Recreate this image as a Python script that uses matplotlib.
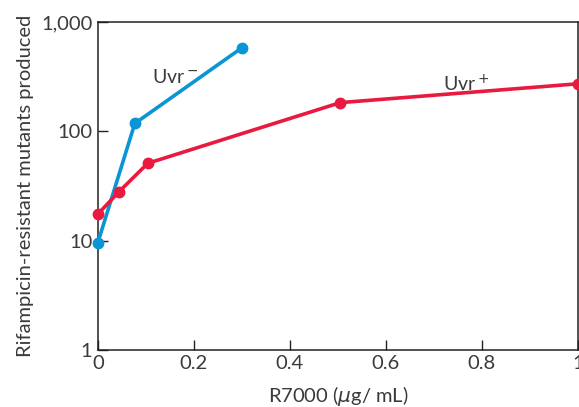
import matplotlib
matplotlib.use("Agg")
import matplotlib.pyplot as plt
from matplotlib.ticker import FixedLocator, NullLocator

# data
uvr_minus_x = [0.0, 0.077, 0.30]
uvr_minus_y = [9.6, 118, 580]
uvr_plus_x = [0.0, 0.044, 0.104, 0.505, 1.0]
uvr_plus_y = [17.5, 28, 51, 183, 272]

y_ticks = [1, 10, 100, 1000]
y_ticklabels = ["1", "10", "100", "1,000"]
x_ticks = [0, 0.2, 0.4, 0.6, 0.8, 1.0]
x_ticklabels = ["0", "0.2", "0.4", "0.6", "0.8", "1"]

BLUE = "#0a95d6"
RED = "#e81a3f"
TEXT = "#3a3a3a"

plt.rcParams["font.family"] = ["Lato", "DejaVu Sans"]
plt.rcParams["mathtext.fontset"] = "dejavusans"

fig = plt.figure(figsize=(5.79, 4.07), dpi=100)
ax = fig.add_axes([0.169, 0.140, 0.829, 0.806])

ax.plot(uvr_minus_x, uvr_minus_y, color=BLUE, lw=2.6, marker="o", ms=7.5, clip_on=False, zorder=3)
ax.plot(uvr_plus_x, uvr_plus_y, color=RED, lw=2.6, marker="o", ms=7.5, clip_on=False, zorder=3)

ax.set_yscale("log")
ax.set_ylim(1, 1000)
ax.set_xlim(0, 1)
ax.yaxis.set_major_locator(FixedLocator(y_ticks))
ax.yaxis.set_minor_locator(NullLocator())
ax.set_yticklabels(y_ticklabels)
ax.set_xticks(x_ticks)
ax.set_xticklabels(x_ticklabels)

ax.tick_params(direction="in", length=7, width=1, colors="#222222", labelcolor=TEXT, labelsize=14.5)
ax.tick_params(axis="y", pad=4)
for s in ax.spines.values():
    s.set_color("#222222")
    s.set_linewidth(1.1)

ax.text(0.112, 315, r"Uvr$\,^{-}$", color=TEXT, fontsize=14, ha="left", va="center")
ax.text(0.720, 272, r"Uvr$\,^{+}$", color=TEXT, fontsize=14, ha="left", va="center")

ax.set_xlabel(r"R7000 ($\mu$g/ mL)", color=TEXT, fontsize=14.5, labelpad=9)
ax.set_ylabel("Rifampicin-resistant mutants produced", color=TEXT, fontsize=14.5, labelpad=5)

fig.savefig("out.png", dpi=100)
